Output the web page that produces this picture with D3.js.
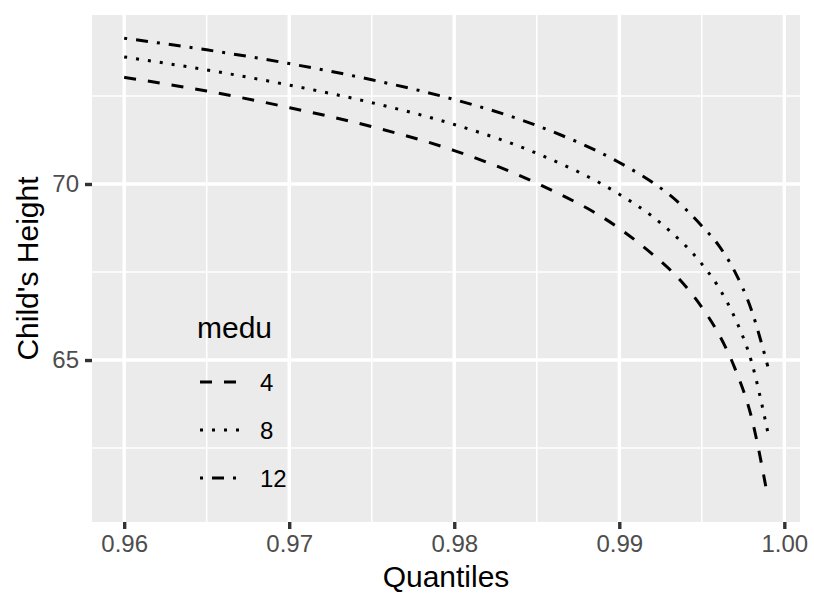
<!DOCTYPE html>
<html>
<head>
<meta charset="utf-8">
<script src="https://cdn.jsdelivr.net/npm/d3@7"></script>
<style>
  html, body { margin: 0; padding: 0; background: #fff; }
  svg { display: block; font-family: "Liberation Sans", Arial, sans-serif; }
</style>
</head>
<body>
<svg id="chart" width="814" height="609"></svg>
<script>
// ---- data ----
const quantiles = [0.960, 0.965, 0.970, 0.975, 0.980, 0.985, 0.990, 0.992, 0.993, 0.995, 0.996, 0.997, 0.998, 0.999];
const medu4  = [73.03, 72.64, 72.17, 71.63, 70.95, 70.02, 68.74, 68.01, 67.60, 66.50, 65.76, 64.77, 63.39, 61.10];
const medu8  = [73.61, 73.24, 72.81, 72.31, 71.69, 70.87, 69.71, 69.08, 68.69, 67.73, 67.08, 66.20, 64.97, 62.95];
const medu12 = [74.14, 73.81, 73.42, 72.96, 72.40, 71.66, 70.61, 70.05, 69.71, 68.81, 68.27, 67.51, 66.43, 64.82];
const seriesNames = ["4", "8", "12"];
const xTicks = [0.96, 0.97, 0.98, 0.99, 1.00];
const xMinor = [0.965, 0.975, 0.985, 0.995];
const yTicks = [65, 70];
const yMinor = [62.5, 67.5, 72.5];

const series = [
  { name: seriesNames[0], values: medu4,  dash: "12 12" },
  { name: seriesNames[1], values: medu8,  dash: "3 9" },
  { name: seriesNames[2], values: medu12, dash: "3 9 12 9" }
];

const svg = d3.select("#chart");
const panel = { left: 92, right: 800, top: 15, bottom: 522 };

const x = d3.scaleLinear().domain([0.95805, 1.00095]).range([panel.left, panel.right]);
const y = d3.scaleLinear().domain([60.40, 74.80]).range([panel.bottom, panel.top]);

svg.append("rect").attr("width", 814).attr("height", 609).attr("fill", "#fff");
svg.append("rect")
  .attr("x", panel.left).attr("y", panel.top)
  .attr("width", panel.right - panel.left).attr("height", panel.bottom - panel.top)
  .attr("fill", "#EBEBEB");

const grid = svg.append("g");
// minor grid
grid.selectAll(".xminor").data(xMinor).enter().append("line")
  .attr("x1", d => x(d)).attr("x2", d => x(d))
  .attr("y1", panel.top).attr("y2", panel.bottom)
  .attr("stroke", "#fff").attr("stroke-width", 1.5);
grid.selectAll(".yminor").data(yMinor).enter().append("line")
  .attr("y1", d => y(d)).attr("y2", d => y(d))
  .attr("x1", panel.left).attr("x2", panel.right)
  .attr("stroke", "#fff").attr("stroke-width", 1.5);
// major grid
grid.selectAll(".xmajor").data(xTicks).enter().append("line")
  .attr("x1", d => x(d)).attr("x2", d => x(d))
  .attr("y1", panel.top).attr("y2", panel.bottom)
  .attr("stroke", "#fff").attr("stroke-width", 3.4);
grid.selectAll(".ymajor").data(yTicks).enter().append("line")
  .attr("y1", d => y(d)).attr("y2", d => y(d))
  .attr("x1", panel.left).attr("x2", panel.right)
  .attr("stroke", "#fff").attr("stroke-width", 3.4);

// axes
const xAxis = d3.axisBottom(x).tickValues(xTicks).tickFormat(d3.format(".2f")).tickSize(7).tickPadding(6);
const gx = svg.append("g").attr("transform", `translate(0,${panel.bottom})`).call(xAxis);
gx.select(".domain").remove();
gx.selectAll(".tick line").attr("stroke", "#333333").attr("stroke-width", 3.4);
gx.selectAll(".tick text").attr("fill", "#4D4D4D").attr("font-size", 24)
  .attr("font-family", "Liberation Sans, Arial, sans-serif").attr("dy", "0.71em");

const yAxis = d3.axisLeft(y).tickValues(yTicks).tickFormat(d3.format("d")).tickSize(7).tickPadding(6);
const gy = svg.append("g").attr("transform", `translate(${panel.left},0)`).call(yAxis);
gy.select(".domain").remove();
gy.selectAll(".tick line").attr("stroke", "#333333").attr("stroke-width", 3.4);
gy.selectAll(".tick text").attr("fill", "#4D4D4D").attr("font-size", 24)
  .attr("font-family", "Liberation Sans, Arial, sans-serif");

// lines
const line = d3.line()
  .x((d, i) => x(quantiles[i]))
  .y(d => y(d))
  .curve(d3.curveMonotoneX);

svg.append("g").selectAll("path").data(series).enter().append("path")
  .attr("d", d => line(d.values))
  .attr("fill", "none")
  .attr("stroke", "#000")
  .attr("stroke-width", 3)
  .attr("stroke-linecap", "butt")
  .attr("stroke-dasharray", d => d.dash);

// axis titles
svg.append("text").attr("x", (panel.left + panel.right) / 2).attr("y", 587)
  .attr("text-anchor", "middle").attr("font-size", 30).attr("fill", "#000")
  .text("Quantiles");
svg.append("text")
  .attr("transform", `translate(38,${(panel.top + panel.bottom) / 2}) rotate(-90)`)
  .attr("text-anchor", "middle").attr("font-size", 30).attr("fill", "#000")
  .text("Child's Height");

// legend
const legend = svg.append("g");
legend.append("text").attr("x", 197).attr("y", 338).attr("font-size", 30).attr("fill", "#000").text("medu");
const keyY = [382, 430, 478];
series.forEach((s, i) => {
  legend.append("line")
    .attr("x1", 200).attr("x2", 241)
    .attr("y1", keyY[i]).attr("y2", keyY[i])
    .attr("stroke", "#000").attr("stroke-width", 3)
    .attr("stroke-dasharray", s.dash);
  legend.append("text").attr("x", 260).attr("y", keyY[i] + 8.5)
    .attr("font-size", 24).attr("fill", "#000").text(s.name);
});
</script>
</body>
</html>
